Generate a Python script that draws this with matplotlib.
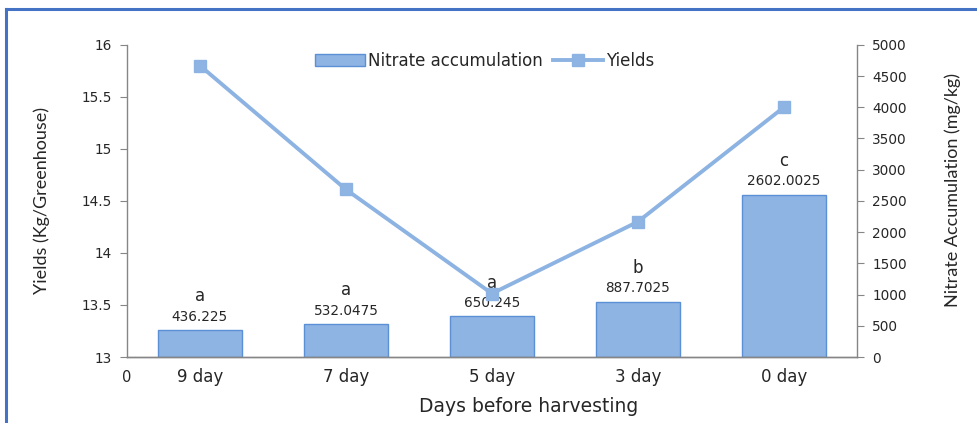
import matplotlib.pyplot as plt
from matplotlib.lines import Line2D
from matplotlib.patches import Patch

# data
days = ["9 day", "7 day", "5 day", "3 day", "0 day"]
nitrate = [436.225, 532.0475, 650.245, 887.7025, 2602.0025]
nitrate_labels = ["436.225", "532.0475", "650.245", "887.7025", "2602.0025"]
letters = ["a", "a", "a", "b", "c"]
yields = [15.80, 14.61, 13.61, 14.30, 15.40]

BAR_FACE = "#8EB4E3"
BAR_EDGE = "#5B8FD6"
LINE_COL = "#8DB3E2"
GRID_COL = "#868686"
TXT = "#262626"

fig = plt.figure(figsize=(9.77, 4.23), dpi=100)
ax = fig.add_axes([0.130, 0.156, 0.747, 0.738])
ax2 = ax.twinx()

x = list(range(len(days)))

# bars (right axis)
ax2.bar(x, nitrate, width=0.58, color=BAR_FACE, edgecolor=BAR_EDGE, linewidth=1.0)
ax2.set_ylim(0, 5000)
ax2.set_yticks(range(0, 5001, 500))
for xi, v, lab, let in zip(x, nitrate, nitrate_labels, letters):
    ax2.annotate(lab, (xi, v), xytext=(0, 9.5), textcoords="offset points",
                 ha="center", va="center", fontsize=9.8, color=TXT)
    ax2.annotate(let, (xi, v), xytext=(0, 24), textcoords="offset points",
                 ha="center", va="center", fontsize=12, color=TXT)

# line (left axis), drawn on top
ax.plot(x, yields, color=LINE_COL, linewidth=2.8, marker="s", markersize=9,
        markerfacecolor=BAR_FACE, markeredgecolor=LINE_COL)
ax.set_ylim(13, 16)
ax.set_yticks([13, 13.5, 14, 14.5, 15, 15.5, 16])
ax.set_yticklabels(["13", "13.5", "14", "14.5", "15", "15.5", "16"])
ax.set_xlim(-0.5, 4.5)
ax.set_xticks(x)
ax.set_xticklabels(days, fontsize=12, color=TXT)
ax.set_zorder(ax2.get_zorder() + 1)
ax.patch.set_visible(False)

for a in (ax, ax2):
    a.spines["top"].set_visible(False)
    for s in ("left", "right", "bottom"):
        a.spines[s].set_color(GRID_COL)
        a.spines[s].set_linewidth(1.0)
    a.tick_params(axis="y", colors=GRID_COL, labelcolor=TXT, labelsize=9.8,
                  length=5, pad=6)
ax.tick_params(axis="x", length=0, pad=8)
ax2.spines["left"].set_visible(False)
ax.spines["right"].set_visible(False)

ax.text(0, -0.065, "0", transform=ax.transAxes, ha="center", va="center",
        fontsize=10.5, color=TXT)

ax.set_ylabel("Yields (Kg/Greenhouse)", fontfamily="Lato", fontsize=13,
              color=TXT)
ax.yaxis.set_label_coords(-0.105, 0.5)
ax2.set_ylabel("Nitrate Accumulation (mg/kg)", fontfamily="Lato", fontsize=13,
               color=TXT, rotation=90)
ax2.yaxis.set_label_coords(1.12, 0.535)
ax.set_xlabel("Days before harvesting", fontsize=13.5, color=TXT)
ax.xaxis.set_label_coords(0.55, -0.128)

handles = [
    Patch(facecolor=BAR_FACE, edgecolor=BAR_EDGE),
    Line2D([0], [0], color=LINE_COL, linewidth=2.8, marker="s", markersize=9,
           markerfacecolor=BAR_FACE, markeredgecolor=LINE_COL),
]
leg = ax.legend(handles, ["Nitrate accumulation", "Yields"], loc="upper center",
                bbox_to_anchor=(0.49, 1.025), ncol=2, frameon=False, fontsize=12,
                handlelength=3.0, handleheight=0.7, columnspacing=0.6,
                handletextpad=0.2)
for t in leg.get_texts():
    t.set_color(TXT)

# blue frame around the chart (left and top edges visible)
fig.add_artist(Line2D([0.0065, 0.0065], [0, 0.979], color="#4472C4", linewidth=2.2))
fig.add_artist(Line2D([0.0065, 1.0], [0.979, 0.979], color="#4472C4", linewidth=2.2))

fig.savefig("out.png", dpi=100)
